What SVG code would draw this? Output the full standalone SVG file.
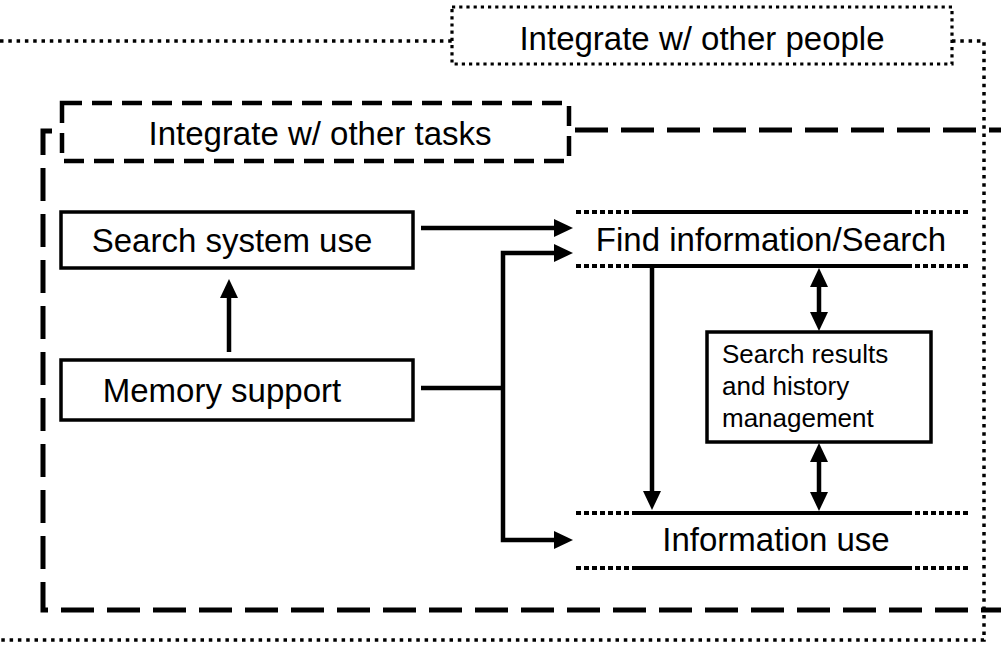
<svg xmlns="http://www.w3.org/2000/svg" width="1001" height="645" viewBox="0 0 1001 645">
<style>
text{font-family:"Liberation Sans",Arial,Helvetica,sans-serif;fill:#000}
.big{font-size:33px}
.small{font-size:26px}
.box{fill:#fff;stroke:#000;stroke-width:3.5}
.dot{fill:none;stroke:#000;stroke-width:3.5;stroke-dasharray:3.5 4.8}
.dotbox{fill:#fff;stroke:#000;stroke-width:3.2;stroke-dasharray:3.2 4}
.dash{fill:none;stroke:#000;stroke-width:5;stroke-dasharray:33 13}
.dashbox{fill:#fff;stroke:#000;stroke-width:4.5;stroke-dasharray:20 10}
.sq{fill:none;stroke:#000;stroke-width:4;stroke-dasharray:5 3}
.solid{fill:none;stroke:#000;stroke-width:4}
.conn{fill:none;stroke:#000;stroke-width:4.5;stroke-linejoin:miter}
.arr{marker-end:url(#ah)}
.darr{marker-start:url(#ah);marker-end:url(#ah)}
</style>
<defs>
<marker id="ah" viewBox="0 0 19 18" markerWidth="19" markerHeight="18" refX="2" refY="9" orient="auto-start-reverse" markerUnits="userSpaceOnUse">
<path d="M0,0 L19,9 L0,18 Z" fill="#000"/>
</marker>
</defs>
<rect width="1001" height="645" fill="#fff"/>

<g id="people-frame">
<path class="dot" d="M0,41 L452,41"/>
<path class="dot" d="M952,41 L984,41 L984,640 L0,640"/>
<rect class="dotbox" x="452" y="7" width="500" height="57"/>
<text class="big" x="702" y="50" text-anchor="middle">Integrate w/ other people</text>
</g>

<g id="tasks-frame">
<path class="dash" d="M52,131 L43,131 L43,610 L1001,610"/>
<path class="dash" d="M575,130 L1001,130"/>
<rect class="dashbox" x="62" y="103" width="507" height="58"/>
<text class="big" x="320" y="145" text-anchor="middle">Integrate w/ other tasks</text>
</g>

<g id="search-system-use">
<rect class="box" x="61" y="212" width="352" height="56"/>
<text class="big" x="232" y="252" text-anchor="middle">Search system use</text>
</g>

<g id="memory-support">
<rect class="box" x="61" y="360" width="352" height="60"/>
<text class="big" x="222" y="402" text-anchor="middle">Memory support</text>
</g>

<g id="find-information">
<path class="sq" d="M576,212 L632,212 M907,212 L970,212 M576,266 L632,266 M907,266 L970,266"/>
<path class="solid" d="M632,212 L907,212 M632,266 L907,266"/>
<text class="big" x="771" y="251" text-anchor="middle">Find information/Search</text>
</g>

<g id="search-results">
<rect class="box" x="707" y="332" width="224" height="110"/>
<text class="small" x="722" y="363">Search results</text>
<text class="small" x="722" y="395">and history</text>
<text class="small" x="722" y="427">management</text>
</g>

<g id="information-use">
<path class="sq" d="M576,513 L632,513 M907,513 L970,513 M576,568 L632,568 M907,568 L970,568"/>
<path class="solid" d="M632,513 L907,513 M632,568 L907,568"/>
<text class="big" x="776" y="551" text-anchor="middle">Information use</text>
</g>

<g id="connectors">
<path class="conn arr" d="M421,228 L556,228"/>
<path class="conn" d="M421,388 L503,388"/>
<path class="conn darr" d="M556,253 L503,253 L503,540 L556,540"/>
<path class="conn arr" d="M229,352 L229,296"/>
<path class="conn arr" d="M652,266 L652,493"/>
<path class="conn darr" d="M819,285 L819,314"/>
<path class="conn darr" d="M819,460 L819,494"/>
</g>
</svg>
